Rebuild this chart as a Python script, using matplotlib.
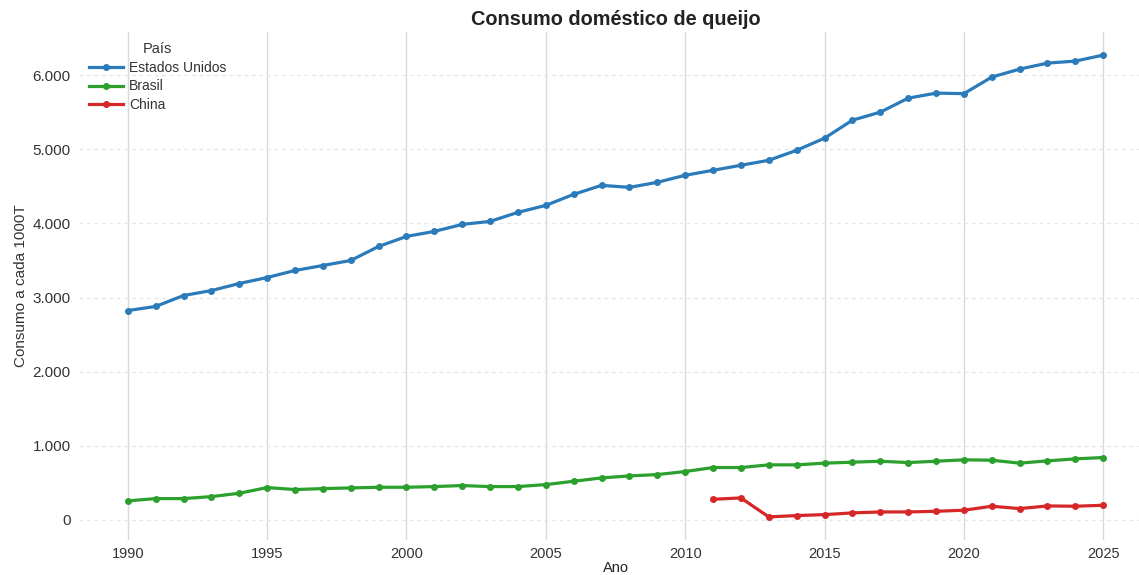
import matplotlib
matplotlib.use("Agg")
import matplotlib.pyplot as plt
from matplotlib.ticker import FuncFormatter, MultipleLocator

anos_eua = list(range(1990, 2026))
eua = [2824, 2880, 3027, 3094, 3189, 3270, 3365, 3432, 3500, 3689,
       3824, 3892, 3986, 4027, 4149, 4243, 4392, 4513, 4486, 4554,
       4649, 4716, 4784, 4851, 4986, 5149, 5392, 5500, 5689, 5757,
       5750, 5973, 6081, 6162, 6189, 6270]
anos_brasil = list(range(1990, 2026))
brasil = [257, 288, 288, 315, 360, 437, 410, 423, 432, 441,
          441, 450, 464, 450, 450, 477, 522, 567, 594, 612,
          653, 707, 707, 743, 743, 766, 779, 792, 774, 792,
          811, 806, 766, 797, 824, 842]
anos_china = list(range(2011, 2026))
china = [279, 297, 41, 59, 72, 95, 108, 108, 117, 131, 185, 153, 189, 185, 198]

series = [("Estados Unidos", anos_eua, eua, "#2b7bba"),
          ("Brasil", anos_brasil, brasil, "#2ca02c"),
          ("China", anos_china, china, "#d62728")]

plt.rcParams['font.family'] = ['Liberation Sans', 'DejaVu Sans']

fig = plt.figure(figsize=(11.39, 5.75), dpi=100)
ax = fig.add_axes([79/1139, 1-540/575, (1152-79)/1139, (540-32)/575])

for nome, x, y, cor in series:
    ax.plot(x, y, color=cor, lw=2.3, marker='o', ms=4, label=nome)

for s in ax.spines.values():
    s.set_visible(False)
ax.set_axisbelow(True)
ax.xaxis.set_major_locator(MultipleLocator(5))
ax.grid(axis='x', color='#d9d9d9', lw=1.0, ls='-')
ax.grid(axis='y', color='#e6e6e6', lw=0.9, ls=(0, (3, 3)))
ax.tick_params(length=0, colors='#333333')
ax.tick_params(axis='y', labelsize=11, pad=6)
ax.tick_params(axis='x', labelsize=10.5, pad=5)
ax.yaxis.set_major_formatter(FuncFormatter(lambda v, p: f"{int(v):,}".replace(",", ".")))

ax.set_ylabel("Consumo a cada 1000T", fontsize=11, color='#333333', labelpad=3)
ax.set_xlabel("Ano", fontsize=10.5, color='#222222', labelpad=0)
ax.set_title("Consumo doméstico de queijo", fontsize=14.3, fontweight='bold',
             color='#222222', pad=5)

leg = ax.legend(title="País", loc='upper left', frameon=False, fontsize=10,
                title_fontsize=10.5, handlelength=2.5, borderaxespad=0.3,
                labelspacing=0.35, handletextpad=0.4)
for t in leg.get_texts():
    t.set_color('#333333')
leg.get_title().set_color('#333333')

fig.savefig("out.png", dpi=100)
